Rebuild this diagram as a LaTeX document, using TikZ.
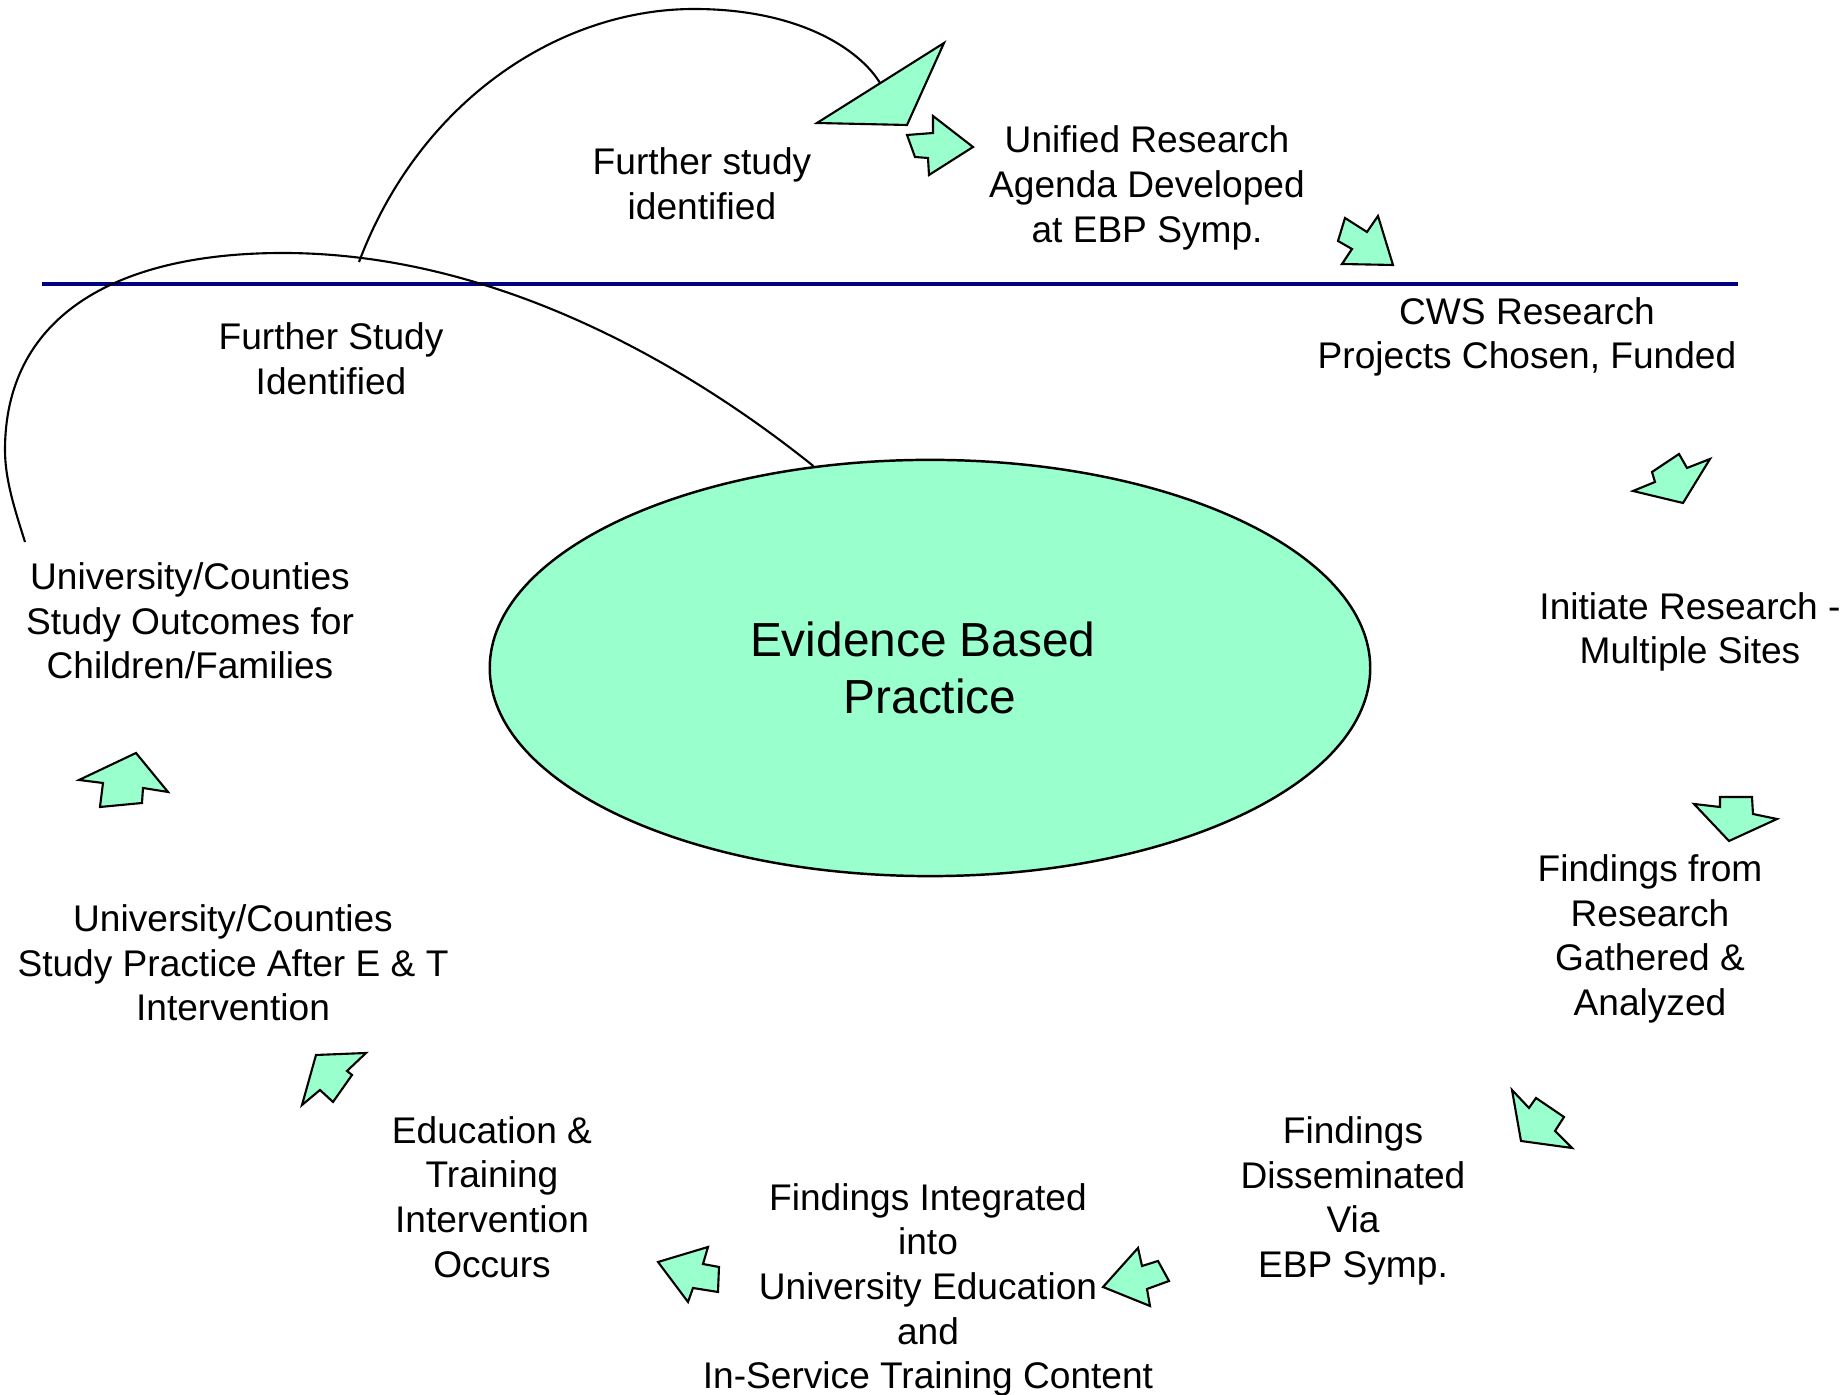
\documentclass[tikz,border=0pt]{standalone}
\usepackage{fontspec}
\setmainfont{Liberation Sans}
\usepackage{tikz}
\usetikzlibrary{shapes.geometric}
\definecolor{mint}{HTML}{99FFCC}
\definecolor{navyline}{HTML}{000080}

\begin{document}
\begin{tikzpicture}[x=0.01cm,y=-0.01cm]
\tikzset{label text/.style={align=center, inner sep=0pt, font=\fontsize{10.55}{12.7}\selectfont},
  block arrow/.style={fill=mint, draw=black, line width=0.6pt, line join=miter},
  link/.style={line width=0.6pt}}

\useasboundingbox (0,0) rectangle (1844,1395);

% centre ellipse
\node [ellipse, fill=mint, draw, line width=0.7pt, minimum width=8.8cm, minimum height=4.16cm,
  inner sep=0pt, align=center, font=\fontsize{13.6}{16.4}\selectfont] (ebp) at (930,668) {Evidence Based\hspace*{0.3em}\\Practice};

%\draw [dotted] (0,0) rectangle (1844,1395);

\draw [navyline, line width=1pt] (42,284) -- (1738,284);

% loop back from the outcomes study
\coordinate (loopstart) at (25,542);
\coordinate (loopleft) at (5,450);
\coordinate (looptop) at (283,253);
\draw [link] (loopstart) .. controls (15,510) and (5,480) .. (loopleft)
  .. controls (5,320) and (110,253) .. (looptop)
  .. controls (505,253) and (700,375) .. (ebp.120);

\coordinate (branch) at (359,262);
\coordinate (archtop) at (694,9);
\coordinate (archend) at (880,83);
\draw [link] (branch) .. controls (420,100) and (560,9) .. (archtop)
  .. controls (800,9) and (860,50) .. (archend);

% arrows round the cycle
\filldraw [block arrow] (817,123) -- (944,43) -- (907,125) -- cycle;
\filldraw [block arrow] (907,135) -- (933,133) -- (933,116) -- (973,147) -- (929,175) -- (928,158) -- (915,157) -- cycle;
\filldraw [block arrow] (1345,218) -- (1367,232) -- (1378,216) -- (1393,265) -- (1342,264) -- (1352,249) -- (1338,241) -- cycle;
\filldraw [block arrow] (1679,454) -- (1687,468) -- (1710,459) -- (1683,503) -- (1633,491) -- (1655,482) -- (1652,472) -- cycle;
\filldraw [block arrow] (1720,797) -- (1752,797) -- (1753,814) -- (1777,819) -- (1729,841) -- (1694,804) -- (1720,807) -- cycle;
\filldraw [block arrow] (1512,1090) -- (1529,1108) -- (1536,1098) -- (1564,1117) -- (1555,1131) -- (1572,1148) -- (1521,1141) -- cycle;
\filldraw [block arrow] (1103,1287) -- (1138,1248) -- (1142,1266) -- (1158,1261) -- (1169,1281) -- (1147,1289) -- (1150,1306) -- cycle;
\filldraw [block arrow] (658,1262) -- (708,1247) -- (703,1264) -- (719,1267) -- (718,1292) -- (693,1288) -- (688,1302) -- cycle;
\filldraw [block arrow] (316,1055) -- (366,1053) -- (347,1071) -- (352,1075) -- (333,1102) -- (320,1090) -- (302,1105) -- cycle;
\filldraw [block arrow] (79,780) -- (136,753) -- (168,792) -- (143,788) -- (142,803) -- (100,807) -- (103,783) -- cycle;

% labels
\node [label text] (furtherup) at (702,184) {Further study\\identified};
\node [label text] (agenda) at (1147,188) {Unified Research\\Agenda Developed\\at EBP Symp.};
\node [label text] (cws) at (1527,337) {CWS Research\\Projects Chosen, Funded};
\node [label text] (initiate) at (1690,632) {Initiate Research -\\Multiple Sites};
\node [label text] (gathered) at (1650,939) {Findings from\\Research\\Gathered \&\\Analyzed};
\node [label text] (disseminated) at (1353,1201) {Findings\\Disseminated\\Via\\EBP Symp.};
\node [label text] (integrated) at (928,1290) {Findings Integrated\\into\\University Education\\and\\In-Service Training Content};
\node [label text] (edtrain) at (492,1197) {Education \&\\Training\\Intervention\\Occurs};
\node [label text] (practice) at (233,963) {University/Counties\\Study Practice After E \& T\\Intervention};
\node [label text] (outcomes) at (190,621) {University/Counties\\Study Outcomes for\\Children/Families};
\node [label text] (furtherdown) at (331,359) {Further Study\\Identified};

\end{tikzpicture}
\end{document}
